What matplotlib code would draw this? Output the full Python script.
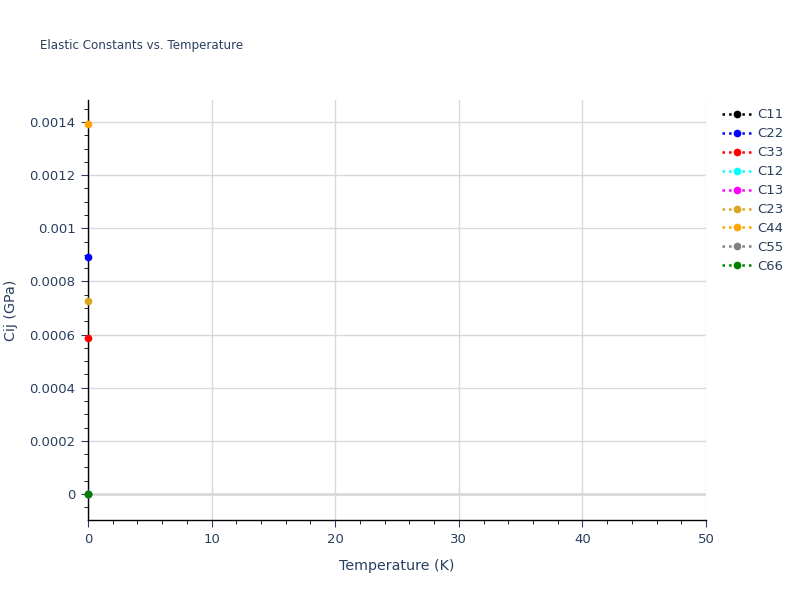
import numpy as np
import matplotlib
matplotlib.use("Agg")
from matplotlib import pyplot as plt
from matplotlib.ticker import MultipleLocator

# Data (one temperature point per constant)
temperature = [0]
names = ["C11", "C22", "C33", "C12", "C13", "C23", "C44", "C55", "C66"]
colors = ["black", "blue", "red", "cyan", "magenta", "goldenrod", "orange", "grey", "green"]
C11 = [0.0]
C22 = [0.000892]
C33 = [0.000587]
C12 = [0.0]
C13 = [0.0]
C23 = [0.000726]
C44 = [0.001392]
C55 = [0.0]
C66 = [0.0]
values = [C11, C22, C33, C12, C13, C23, C44, C55, C66]

text_col = "#2a3f5f"
grid_col = "#d9d9d9"

fig = plt.figure(figsize=(8, 6), dpi=100)
ax = fig.add_axes([0.11, 0.1333, 0.7725, 0.7])

ax.axhline(0, color=grid_col, lw=2, zorder=1)
lines = []
for name, col, v in zip(names, colors, values):
    ln, = ax.plot(temperature, v, ":", color=col, marker="o", markersize=4.5,
                  lw=1.8, label=name, zorder=3, clip_on=False)
    lines.append(ln)

ax.set_xlim(0, 50)
ax.set_ylim(-0.0000979, 0.001483)
ax.xaxis.set_major_locator(MultipleLocator(10))
ax.xaxis.set_minor_locator(MultipleLocator(2))
ax.yaxis.set_major_locator(MultipleLocator(0.0002))
ax.yaxis.set_minor_locator(MultipleLocator(0.00005))
ax.yaxis.set_major_formatter(plt.FuncFormatter(lambda v, p: "0" if abs(v) < 1e-12 else ("%.4f" % v).rstrip("0")))

ax.grid(True, which="major", color=grid_col, lw=1)
ax.set_axisbelow(True)
for s in ["top", "right"]:
    ax.spines[s].set_visible(False)
for s in ["left", "bottom"]:
    ax.spines[s].set_color("black")
    ax.spines[s].set_linewidth(1)

ax.tick_params(axis="both", which="major", direction="out", length=5, color=text_col,
               labelcolor=text_col, labelsize=9.5, pad=4)
ax.tick_params(axis="both", which="minor", direction="out", length=3, color="black")
ax.tick_params(axis="y", which="major", color=text_col)

ax.set_xlabel("Temperature (K)", color=text_col, fontsize=10.3, labelpad=10)
ax.set_ylabel("Cij (GPa)", color=text_col, fontsize=10.3, labelpad=8)

fig.text(0.05, 0.925, "Elastic Constants vs. Temperature", color=text_col,
         fontsize=8.6, va="center")

leg = fig.legend(handles=lines, loc="upper left", bbox_to_anchor=(0.896, 0.828),
                 frameon=False, fontsize=9.5, handlelength=2.2, labelspacing=0.45,
                 handletextpad=0.5, borderaxespad=0)
for t in leg.get_texts():
    t.set_color(text_col)

fig.savefig("out.png", dpi=100)
